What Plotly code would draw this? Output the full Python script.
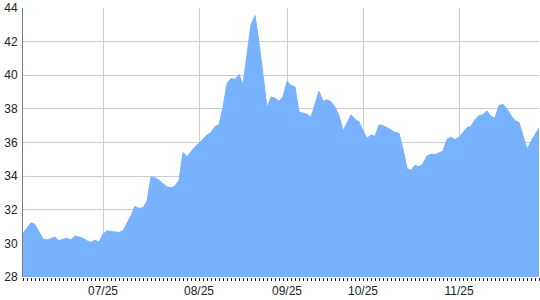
import plotly.graph_objects as go

values = [
    30.6, 30.9, 31.22, 31.12, 30.7, 30.25, 30.2, 30.28, 30.38, 30.15,
    30.25, 30.3, 30.2, 30.45, 30.38, 30.3, 30.15, 30.05, 30.2, 30.07,
    30.55, 30.75, 30.7, 30.67, 30.65, 30.75, 31.2, 31.65, 32.2, 32.08,
    32.12, 32.5, 33.95, 33.9, 33.75, 33.52, 33.35, 33.3, 33.42, 33.75,
    35.4, 35.15, 35.45, 35.75, 35.95, 36.2, 36.45, 36.6, 36.95, 37.05,
    38.1, 39.5, 39.8, 39.75, 40.05, 39.45, 41.4, 43.0, 43.55, 41.95,
    40.0, 38.05, 38.7, 38.65, 38.45, 38.7, 39.63, 39.4, 39.3, 37.8,
    37.75, 37.68, 37.52, 38.3, 39.04, 38.45, 38.54, 38.42, 38.1, 37.6,
    36.7, 37.15, 37.65, 37.38, 37.22, 36.7, 36.26, 36.45, 36.37, 37.05,
    37.0, 36.88, 36.75, 36.6, 36.55, 35.6, 34.45, 34.35, 34.65, 34.55,
    34.75, 35.2, 35.3, 35.28, 35.38, 35.48, 36.2, 36.3, 36.18, 36.3,
    36.6, 36.88, 36.97, 37.35, 37.6, 37.65, 37.88, 37.55, 37.45, 38.2,
    38.27, 38.0, 37.6, 37.3, 37.2, 36.4, 35.6, 36.06, 36.45, 36.86,
]
x_index = list(range(len(values)))
tick_positions = [20, 44, 66, 85, 109]
tick_labels = ["07/25", "08/25", "09/25", "10/25", "11/25"]
y_ticks = [28, 30, 32, 34, 36, 38, 40, 42, 44]

fig = go.Figure()
fig.add_trace(go.Scatter(
    x=x_index, y=values, mode="lines",
    fill="tozeroy", fillcolor="rgb(120,178,255)",
    line=dict(color="rgb(120,178,255)", width=1),
    hoverinfo="skip", showlegend=False,
))

fig.update_layout(
    width=540, height=300,
    margin=dict(l=23, r=1, t=8, b=23),
    paper_bgcolor="white", plot_bgcolor="white",
    font=dict(family="Liberation Sans, Arial, sans-serif", size=12, color="#222"),
)
fig.update_xaxes(
    range=[0, len(values) - 1],
    tickvals=tick_positions, ticktext=tick_labels,
    showgrid=True, gridcolor="#cccccc", gridwidth=1,
    ticks="outside", ticklen=3, tickcolor="#222", tickwidth=1,
    minor=dict(ticks="outside", dtick=1, tick0=0, ticklen=3, tickcolor="#222", tickwidth=1, showgrid=False),
    showline=False, zeroline=False,
    tickfont=dict(size=12, color="#222"),
)
fig.update_yaxes(
    range=[28, 44], tickvals=y_ticks,
    showgrid=True, gridcolor="#cccccc", gridwidth=1,
    showline=True, linecolor="#808080", linewidth=1,
    zeroline=False, ticks="", ticklabelstandoff=2,
    tickfont=dict(size=12, color="#222"),
)
fig.write_html("out.html")
